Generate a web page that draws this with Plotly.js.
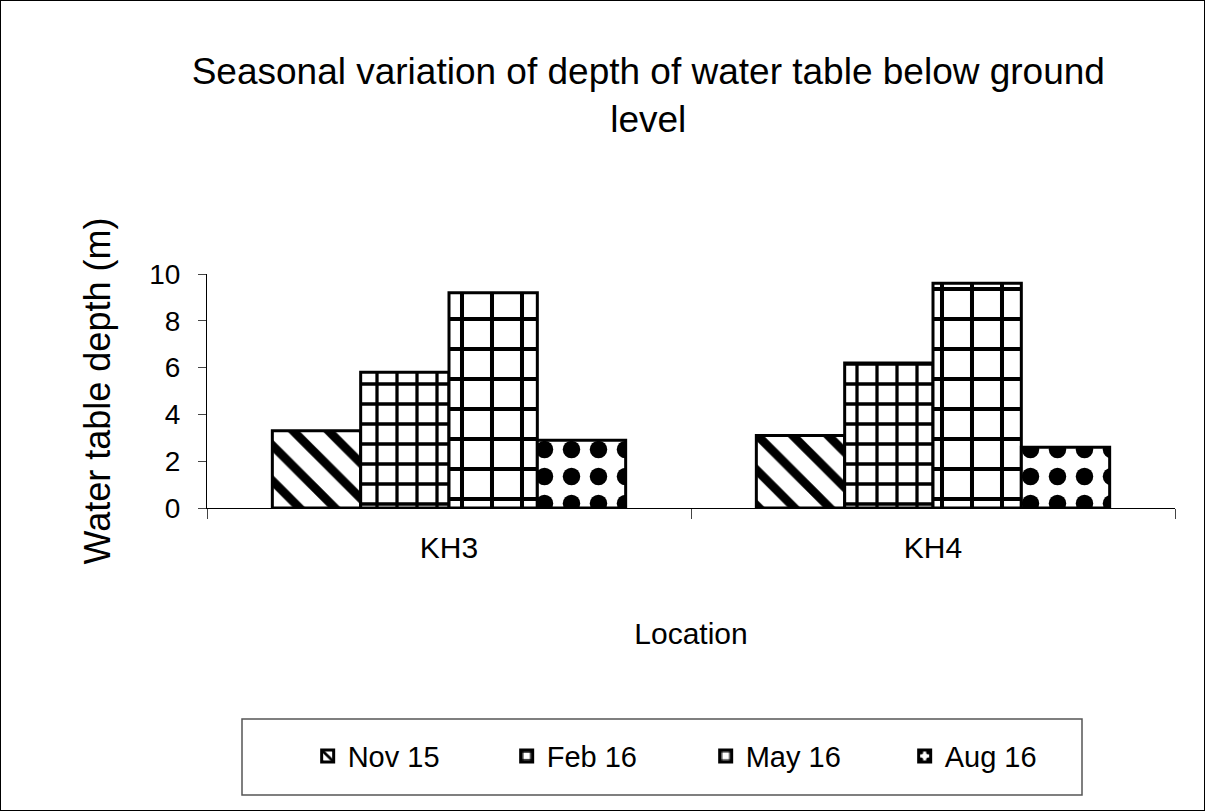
<!DOCTYPE html>
<html>
<head>
<meta charset="utf-8">
<script src="https://cdn.plot.ly/plotly-3.0.1.min.js"></script>
<style>
  html, body { margin: 0; padding: 0; background: #fff; }
  #wrap { position: relative; width: 1205px; height: 811px; }
  #chart { width: 1205px; height: 811px; }
  #frame { position: absolute; left: 0; top: 0; width: 1203px; height: 809px; border: 1px solid #000; pointer-events: none; }
</style>
</head>
<body>
<div id="wrap">
  <div id="chart"></div>
  <div id="frame"></div>
</div>
<script>
// Data
const locations = ["KH3", "KH4"];
const seriesNames = ["Nov 15", "Feb 16", "May 16", "Aug 16"];
const nov15 = [3.3, 3.1];
const feb16 = [5.8, 6.2];
const may16 = [9.2, 9.6];
const aug16 = [2.9, 2.6];
const yTickVals = [0, 2, 4, 6, 8, 10];

const seriesValues = [nov15, feb16, may16, aug16];
const patterns = [
  { shape: "\\", size: 25, solidity: 0.35 },
  { shape: "+", size: 20, solidity: 0.3 },
  { shape: "+", size: 30, solidity: 0.25 },
  { shape: ".", size: 27, solidity: 0.33 }
];

const font = "Liberation Sans, Arial, Helvetica, sans-serif";

const traces = seriesNames.map((name, i) => ({
  type: "bar",
  name: name,
  x: locations,
  y: seriesValues[i],
  marker: {
    color: "#ffffff",
    line: { color: "#000000", width: 3 },
    pattern: Object.assign({ fgcolor: "#000000", bgcolor: "#ffffff", fillmode: "replace" }, patterns[i])
  },
  hoverinfo: "x+y+name"
}));

const layout = {
  width: 1205,
  height: 811,
  paper_bgcolor: "#ffffff",
  plot_bgcolor: "#ffffff",
  font: { family: font, color: "#000000" },
  margin: { l: 207, r: 30, t: 274, b: 303, autoexpand: false },
  title: {
    text: "Seasonal variation of depth of water table below ground<br>level",
    font: { family: font, size: 37, color: "#000000" },
    x: 0.538, xref: "container", xanchor: "center",
    y: 0.897, yref: "container", yanchor: "top"
  },
  barmode: "group",
  bargap: 0.27,
  bargroupgap: 0,
  showlegend: true,
  legend: {
    orientation: "h",
    x: 0.104, xanchor: "left",
    y: -1.06, yanchor: "middle",
    font: { family: font, size: 29, color: "#000000" },
    entrywidth: 154,
    bgcolor: "rgba(0,0,0,0)",
    borderwidth: 0,
    traceorder: "normal"
  },
  xaxis: {
    type: "category",
    showline: true, linecolor: "#000000", linewidth: 1,
    ticks: "outside", tickson: "boundaries", ticklen: 10, tickcolor: "#444444", tickwidth: 1,
    showgrid: false, zeroline: false,
    tickfont: { family: font, size: 30, color: "#000000" },
    ticklabelstandoff: 13,
    title: { text: "Location", font: { family: font, size: 30, color: "#000000" }, standoff: 59 }
  },
  yaxis: {
    range: [0, 10],
    tickvals: yTickVals,
    ticktext: yTickVals.map(String),
    showline: true, linecolor: "#000000", linewidth: 1,
    ticks: "outside", ticklen: 8, tickcolor: "#444444", tickwidth: 1,
    showgrid: false, zeroline: false,
    tickfont: { family: font, size: 28, color: "#000000" },
    ticklabelstandoff: 12,
    title: { text: "Water table depth (m)", font: { family: font, size: 36, color: "#000000" }, standoff: 27 }
  },
  shapes: [
    {
      type: "rect", xref: "paper", yref: "paper",
      x0: (242 - 207) / 968, x1: (1082 - 207) / 968,
      y0: (508 - 795) / 234, y1: (508 - 719) / 234,
      line: { color: "#555555", width: 1.5 },
      fillcolor: "rgba(0,0,0,0)",
      layer: "below"
    }
  ]
};

Plotly.newPlot("chart", traces, layout, { displayModeBar: false, staticPlot: true });
</script>
</body>
</html>
